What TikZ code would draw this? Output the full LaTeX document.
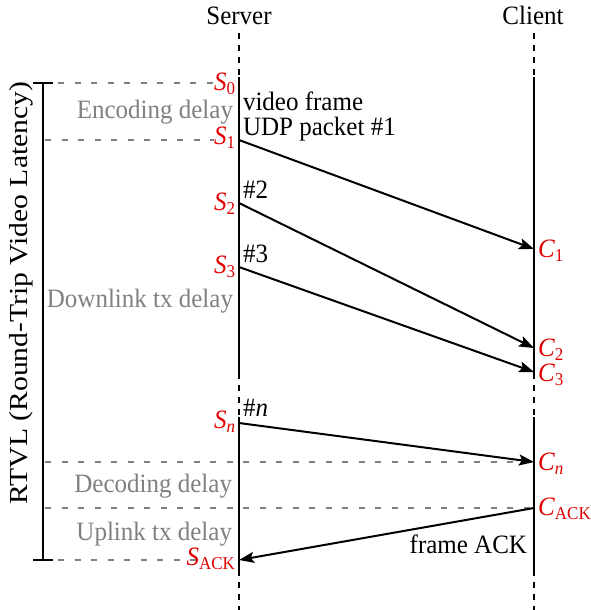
\documentclass[tikz,border=0pt]{standalone}
\usepackage{fontspec}
\setmainfont{Liberation Serif}
\usetikzlibrary{arrows.meta}
\definecolor{lblred}{RGB}{225,0,0}
\definecolor{dgray}{RGB}{128,128,128}
\newcommand{\lbsub}[2]{\textit{#1}\raisebox{-4pt}{\fontsize{17}{17}\selectfont #2}}
\tikzset{
  every node/.style={font=\fontsize{25}{30}\selectfont, inner sep=0pt, outer sep=0pt},
  txt/.style={yscale=1.06},
  life/.style={line width=2.4pt},
  lifedash/.style={line width=2.4pt, dash pattern=on 6pt off 6pt},
  guide/.style={dgray, line width=1.8pt, dash pattern=on 6pt off 10.5pt},
  msg/.style={line width=2pt, -{Stealth[length=15pt,width=11pt,inset=3pt]}},
  slbl/.style={txt, lblred, anchor=base east},
  clbl/.style={txt, lblred, anchor=base west},
  blk/.style={txt, black},
  gry/.style={txt, dgray, anchor=base east},
  brk/.style={line width=2.4pt},
}
\begin{document}
\begin{tikzpicture}[x=1pt,y=-1pt]
\useasboundingbox (0,0) rectangle (590,610);
% lifeline breakpoints
\coordinate (st) at (239,33);
\coordinate (sa) at (239,77);
\coordinate (sb) at (239,373);
\coordinate (sc) at (239,417);
\coordinate (sd) at (239,570);
\coordinate (se) at (239,610);
\coordinate (ct) at (534,33);
\coordinate (ca) at (534,77);
\coordinate (cb) at (534,373);
\coordinate (cc) at (534,417);
\coordinate (cd) at (534,570);
\coordinate (ce) at (534,610);
% event points
\coordinate (S0) at (239,83);
\coordinate (S1) at (239,140);
\coordinate (S2) at (239,203);
\coordinate (S3) at (239,267);
\coordinate (Sn) at (239,423);
\coordinate (SA) at (239,560);
\coordinate (C1) at (534,249);
\coordinate (C2) at (534,348);
\coordinate (C3) at (534,372);
\coordinate (Cn) at (534,462);
\coordinate (CA) at (534,508);
% guide line start points
\coordinate (g0) at (58,83);
\coordinate (g1) at (45,140);
\coordinate (gn) at (45,462);
\coordinate (ga) at (45,508);
\coordinate (gs) at (58,560);
\coordinate (g0e) at (214,83);
\coordinate (g1e) at (214,140);
\coordinate (gse) at (200,560);
% bracket
\coordinate (bt) at (43,83);
\coordinate (bb) at (43,560);
\coordinate (btl) at (33,83);
\coordinate (btr) at (53,83);
\coordinate (bbl) at (33,560);
\coordinate (bbr) at (53,560);

% guides
\draw[guide] (g0) -- (g0e);
\draw[guide] (g1) -- (g1e);
\draw[guide] (gn) -- (Cn);
\draw[guide] (ga) -- (CA);
\draw[guide] (gs) -- (gse);

% lifelines
\draw[lifedash] (st) -- (sa);
\draw[life] (sa) -- (sb);
\draw[lifedash] (sb) -- (sc);
\draw[life] (sc) -- (sd);
\draw[lifedash] (sd) -- (se);
\draw[lifedash] (ct) -- (ca);
\draw[life] (ca) -- (cb);
\draw[lifedash] (cb) -- (cc);
\draw[life] (cc) -- (cd);
\draw[lifedash] (cd) -- (ce);

% bracket
\draw[brk] (bt) -- (bb);
\draw[brk] (btl) -- (btr);
\draw[brk] (bbl) -- (bbr);

% messages
\draw[msg] (S1) -- (C1);
\draw[msg] (S2) -- (C2);
\draw[msg] (S3) -- (C3);
\draw[msg] (Sn) -- (Cn);
\draw[msg] (CA) -- (SA);

% headers
\node[txt, anchor=base] (srv) at (239,25) {Server};
\node[txt, anchor=base] (cli) at (533,25) {Client};

% red labels
\node[slbl] (lS0) at (235,90) {\lbsub{S}{0}};
\node[slbl] (lS1) at (235,144) {\lbsub{S}{1}};
\node[slbl] (lS2) at (235,210) {\lbsub{S}{2}};
\node[slbl] (lS3) at (235,273) {\lbsub{S}{3}};
\node[slbl] (lSn) at (235,428) {\lbsub{S}{\textit{n}}};
\node[slbl] (lSA) at (235,565) {\lbsub{S}{ACK}};
\node[clbl] (lC1) at (538,257) {\lbsub{C}{1}};
\node[clbl] (lC2) at (538,356) {\lbsub{C}{2}};
\node[clbl] (lC3) at (538,381) {\lbsub{C}{3}};
\node[clbl] (lCn) at (538,470) {\lbsub{C}{\textit{n}}};
\node[clbl] (lCA) at (538,515) {\lbsub{C}{ACK}};

% black labels
\node[blk, anchor=base west] (vf) at (243,110) {video frame};
\node[blk, anchor=base west] (udp) at (243,135) {UDP packet \#1};
\node[blk, anchor=base west] (p2) at (243,198) {\#2};
\node[blk, anchor=base west] (p3) at (243,262) {\#3};
\node[blk, anchor=base west] (pn) at (243,416) {\#\textit{n}};
\node[blk, anchor=base east] (fa) at (527,553) {frame ACK};

% gray labels
\node[gry] (enc) at (233,118) {Encoding delay};
\node[gry] (dl) at (233,307) {Downlink tx delay};
\node[gry] (dec) at (232,492) {Decoding delay};
\node[gry] (ul) at (232,540) {Uplink tx delay};

% rotated label
\node[rotate=90, xscale=1.14, font=\fontsize{26}{30}\selectfont] (rtvl) at (21,293) {RTVL (Round-Trip Video Latency)};
\end{tikzpicture}
\end{document}
